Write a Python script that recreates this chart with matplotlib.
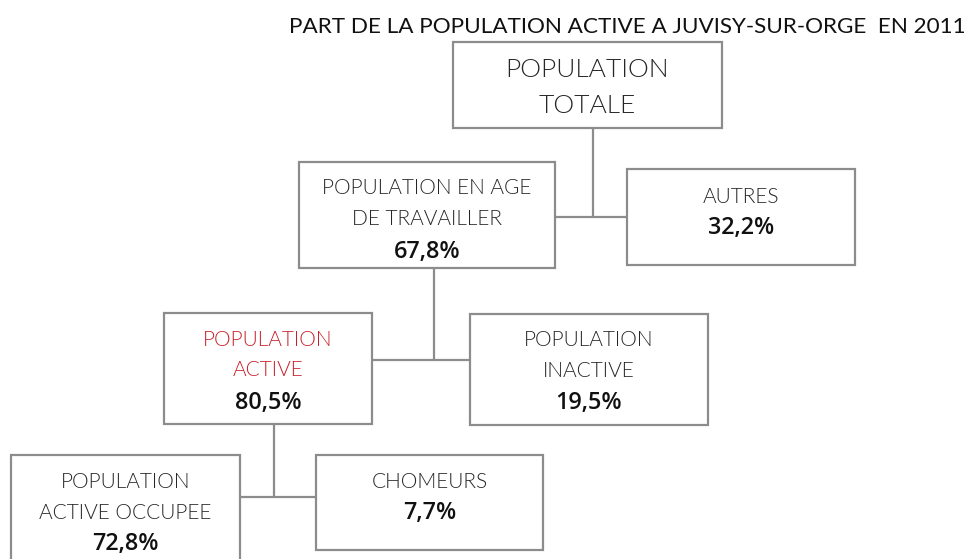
import matplotlib
matplotlib.use("Agg")
import matplotlib.pyplot as plt
from matplotlib.patches import Rectangle

title = "PART DE LA POPULATION ACTIVE A JUVISY-SUR-ORGE  EN 2011"
node_names = ["POPULATION\nTOTALE", "POPULATION EN AGE\nDE TRAVAILLER", "AUTRES",
              "POPULATION\nACTIVE", "POPULATION\nINACTIVE",
              "POPULATION\nACTIVE OCCUPEE", "CHOMEURS"]
node_values = ["", "67,8%", "32,2%", "80,5%", "19,5%", "72,8%", "7,7%"]
name_colors = ["#262626", "#262626", "#262626", "#c8202a", "#262626", "#262626", "#262626"]

# layout (pixel coordinates): x0, y0, x1, y1
boxes = [(453, 42, 722, 128), (299, 162, 555, 268), (627, 169, 855, 265),
         (164, 313, 372, 424), (470, 314, 708, 425),
         (11, 455, 240, 575), (316, 455, 543, 550)]
# (parent, left child, right child, junction x, junction y)
links = [(0, 1, 2, 593, 217), (1, 3, 4, 434, 360), (3, 5, 6, 274, 497)]
name_size = [19, 15, 15, 15, 15, 15, 15]
name_y = [[70, 106], [188, 219], [197], [340, 370], [340, 371], [482, 513], [482]]
val_y = [None, 252, 228, 403, 403, 544, 513]

W, H = 967, 559
fig = plt.figure(figsize=(W / 100, H / 100), dpi=100)
ax = fig.add_axes([0, 0, 1, 1])
ax.set_xlim(0, W)
ax.set_ylim(H, 0)
ax.axis("off")

edge = "#8c8c8c"
lw = 1.6
for p, l, r, jx, jy in links:
    px0, py0, px1, py1 = boxes[p]
    ax.plot([jx, jx], [py1, jy], color=edge, lw=lw, solid_capstyle="butt")
    ax.plot([boxes[l][2], boxes[r][0]], [jy, jy], color=edge, lw=lw, solid_capstyle="butt")

for i, (x0, y0, x1, y1) in enumerate(boxes):
    ax.add_patch(Rectangle((x0, y0), x1 - x0, y1 - y0, fill=True, facecolor="white",
                           edgecolor=edge, lw=lw, clip_on=True))
    cx = (x0 + x1) / 2
    for line, yy in zip(node_names[i].split("\n"), name_y[i]):
        ax.text(cx, yy, line, ha="center", va="center", fontsize=name_size[i],
                family="Lato", fontweight=300, color=name_colors[i])
    if node_values[i]:
        ax.text(cx, val_y[i], node_values[i], ha="center", va="center", fontsize=16.8,
                family="Open Sans", fontweight="semibold", color="#111111")

ax.text(627, 27, title, ha="center", va="center", fontsize=16.2, family="Lato",
        color="#111111")

fig.savefig("out.png", dpi=100)
